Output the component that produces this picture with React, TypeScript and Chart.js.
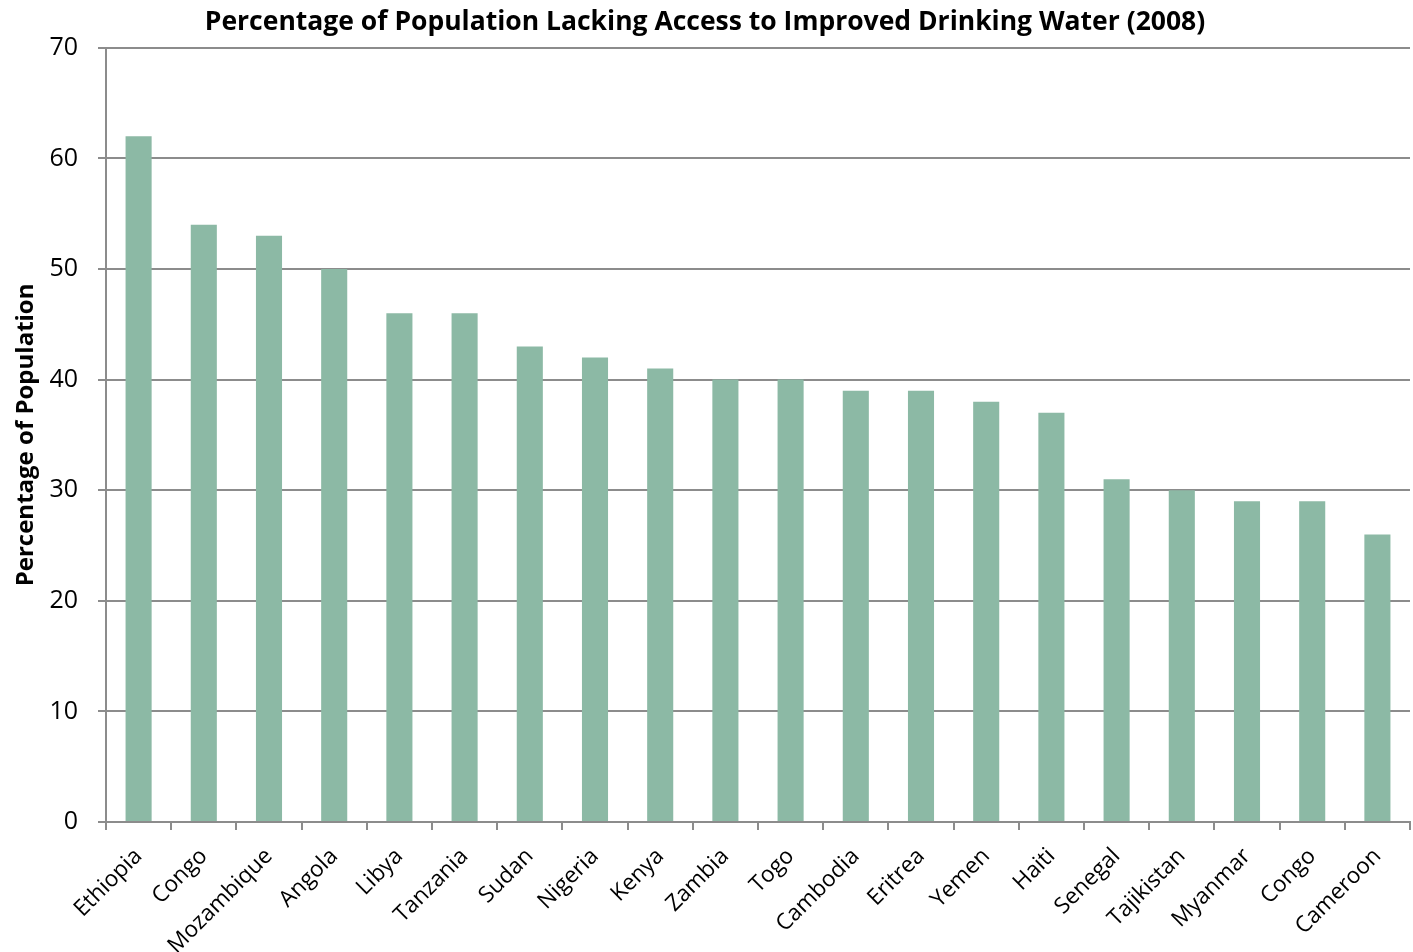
import React, { useEffect, useRef } from "react";
import { Chart, registerables } from "chart.js";

Chart.register(...registerables);

const categories = [
  "Ethiopia", "Congo", "Mozambique", "Angola", "Libya", "Tanzania", "Sudan",
  "Nigeria", "Kenya", "Zambia", "Togo", "Cambodia", "Eritrea", "Yemen", "Haiti",
  "Senegal", "Tajikistan", "Myanmar", "Congo", "Cameroon",
];
const values = [62, 54, 53, 50, 46, 46, 43, 42, 41, 40, 40, 39, 39, 38, 37, 31, 30, 29, 29, 26];
const titleText = "Percentage of Population Lacking Access to Improved Drinking Water (2008)";
const yTitle = "Percentage of Population";

const FONT = "'Open Sans', 'Liberation Sans', sans-serif";
const GRID = "#8c8c8c";

export default function App() {
  const ref = useRef<HTMLCanvasElement | null>(null);
  useEffect(() => {
    if (!ref.current) return;
    const chart = new Chart(ref.current, {
      type: "bar",
      data: {
        labels: categories,
        datasets: [
          {
            data: values,
            backgroundColor: "#8cb9a5",
            borderWidth: 0,
            categoryPercentage: 1,
            barPercentage: 0.4,
          },
        ],
      },
      options: {
        responsive: false,
        animation: false,
        layout: { padding: { top: 0, left: 0, right: 3, bottom: 0 } },
        plugins: {
          legend: { display: false },
          tooltip: { enabled: false },
          title: {
            display: true,
            text: titleText,
            color: "#000",
            font: { family: FONT, size: 26.5, weight: "bold", lineHeight: 1.2 },
            padding: { top: 7, bottom: 9 },
          },
        },
        scales: {
          x: {
            grid: {
              display: true,
              drawOnChartArea: false,
              drawTicks: true,
              tickLength: 8,
              color: GRID,
              lineWidth: 2,
              offset: true,
            },
            border: { display: true, color: GRID, width: 2 },
            ticks: {
              color: "#000",
              font: { family: FONT, size: 22.5 },
              minRotation: 45,
              maxRotation: 45,
              autoSkip: false,
              padding: 13,
            },
            afterFit: (s: any) => {
              s.height = 130;
            },
          },
          y: {
            min: 0,
            max: 70,
            ticks: {
              stepSize: 10,
              color: "#000",
              font: { family: FONT, size: 25 },
              padding: 20,
            },
            grid: {
              color: GRID,
              lineWidth: 2,
              tickLength: 8,
              drawTicks: true,
            },
            border: { display: true, color: GRID, width: 2 },
            title: {
              display: true,
              text: yTitle,
              color: "#000",
              font: { family: FONT, size: 24, weight: "bold", lineHeight: 1.2 },
              padding: { top: 12, bottom: 0 },
            },
            afterFit: (s: any) => {
              s.width = 106;
            },
          },
        },
      },
    });
    return () => chart.destroy();
  }, []);
  return (
    <div style={{ position: "absolute", left: 0, top: 0, width: 1413, height: 952, background: "#fff" }}>
      <canvas ref={ref} width={1413} height={952} style={{ width: 1413, height: 952 }} />
    </div>
  );
}
